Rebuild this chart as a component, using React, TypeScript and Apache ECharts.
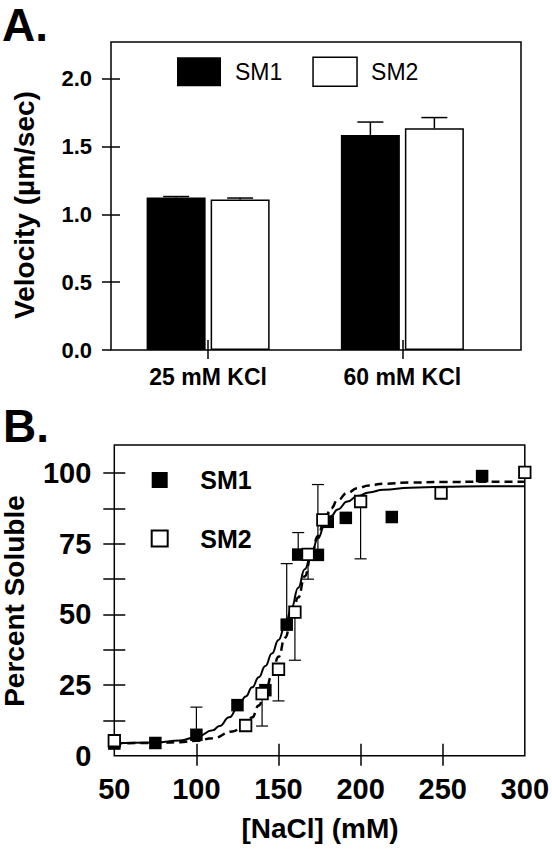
import React, { useEffect, useRef } from 'react';
import * as echarts from 'echarts';

const FONT = '"Liberation Sans", Arial, Helvetica, sans-serif';

// Panel A: velocity bars
const kclCategories = ['25 mM KCl', '60 mM KCl'];
const velocitySM1 = [1.124, 1.585];
const velocitySM1Err = [0.007, 0.095];
const velocitySM2 = [1.109, 1.634];
const velocitySM2Err = [0.011, 0.079];
const velocityTicks = [0, 0.5, 1.0, 1.5, 2.0];

// Panel B: solubility points
const naclSM1 = [50, 75, 100, 125, 142, 155, 162, 174, 180, 191, 219, 274];
const solubleSM1 = [4.3, 4.5, 7.4, 17.9, 23.2, 46.4, 71.2, 71.1, 82.8, 84.2, 84.5, 99.0];
const solubleSM1ErrTop = [null, null, 17.2, null, null, 68.0, 79.0, 96.0, null, null, null, null];

const naclSM2 = [50, 130, 140, 150, 160, 168, 177, 200, 249, 300];
const solubleSM2 = [5.3, 10.7, 22.0, 30.6, 50.8, 71.3, 83.5, 90.0, 93.0, 100.3];
const solubleSM2ErrLow = [null, null, 10.5, 19.4, 33.8, 62.5, null, 69.7, null, null];

// Panel B: fitted curves
const fitSM1X = [50, 75, 90, 100, 110, 114, 120, 126, 130, 134, 138, 142, 146, 150, 154, 158, 162, 166, 170, 174, 178, 182, 186, 192, 198, 205, 214, 230, 250, 275, 300];
const fitSM1Y = [4.4, 4.7, 5.4, 6.6, 9.0, 10.5, 13.6, 18.0, 21.0, 24.2, 27.8, 31.8, 36.2, 41.0, 46.0, 52.5, 59.5, 66.0, 71.5, 77.0, 81.3, 84.8, 87.2, 90.0, 91.9, 93.2, 94.2, 94.9, 95.2, 95.4, 95.4];
const fitSM2X = [50, 75, 90, 100, 110, 122, 130, 134, 138, 142, 146, 150, 154, 158, 162, 166, 170, 174, 178, 182, 186, 192, 198, 205, 214, 230, 250, 275, 300];
const fitSM2Y = [4.4, 4.5, 4.8, 5.3, 6.2, 8.6, 11.0, 13.6, 17.8, 22.8, 28.4, 35.0, 41.8, 48.6, 56.0, 63.5, 71.0, 77.8, 83.4, 87.6, 90.5, 93.1, 94.7, 95.7, 96.3, 96.7, 96.9, 97.0, 97.0];

const naclLabelTicks = [50, 100, 150, 200, 250, 300];
const naclInnerTicks = [100, 150, 200, 250];
const solubleLabelTicks = [0, 25, 50, 75, 100];
const solubleTicks = [12.5, 25, 37.5, 50, 62.5, 75, 87.5, 100];

const BLACK = '#000';

function barErrorRender(offset: number) {
  return (params: any, api: any) => {
    const cat = api.value(0);
    const v = api.value(1);
    const top = api.value(2);
    const p0 = api.coord([cat, v]);
    const p1 = api.coord([cat, top]);
    const x = p0[0] + offset;
    return {
      type: 'group',
      children: [
        { type: 'line', shape: { x1: x, y1: p0[1], x2: x, y2: p1[1] }, style: { stroke: BLACK, lineWidth: 1.5 } },
        { type: 'line', shape: { x1: x - 13, y1: p1[1], x2: x + 13, y2: p1[1] }, style: { stroke: BLACK, lineWidth: 1.5 } },
      ],
    };
  };
}

function pointErrorRender(params: any, api: any) {
  const x = api.value(0);
  const y = api.value(1);
  const e = api.value(2);
  const p0 = api.coord([x, y]);
  const p1 = api.coord([x, e]);
  return {
    type: 'group',
    children: [
      { type: 'line', shape: { x1: p0[0], y1: p0[1], x2: p1[0], y2: p1[1] }, style: { stroke: BLACK, lineWidth: 1.2 } },
      { type: 'line', shape: { x1: p1[0] - 6, y1: p1[1], x2: p1[0] + 6, y2: p1[1] }, style: { stroke: BLACK, lineWidth: 1.2 } },
    ],
  };
}

function buildOption() {
  const sm1Err = naclSM1.map((x, i) => [x, solubleSM1[i], solubleSM1ErrTop[i]]).filter((d) => d[2] !== null);
  const sm2Err = naclSM2.map((x, i) => [x, solubleSM2[i], solubleSM2ErrLow[i]]).filter((d) => d[2] !== null);

  const tickStyle = { color: BLACK, width: 1.5 };

  return {
    animation: false,
    backgroundColor: '#fff',
    textStyle: { fontFamily: FONT },
    grid: [
      { left: 111, top: 42, width: 388.5, height: 308, show: false },
      { left: 114.3, top: 445, width: 411, height: 310.7, show: true, borderColor: BLACK, borderWidth: 1.5, backgroundColor: 'transparent' },
    ],
    legend: [
      {
        left: 177, top: 56.5, orient: 'horizontal', padding: 0, itemGap: 30, itemWidth: 44, itemHeight: 29,
        selectedMode: false,
        textStyle: { fontFamily: FONT, fontSize: 23, color: BLACK, padding: [13, 0, 0, 9] },
        data: [
          { name: 'SM1', icon: 'rect', itemStyle: { color: BLACK, borderWidth: 0 } },
          { name: 'SM2', icon: 'rect', itemStyle: { color: '#fff', borderColor: BLACK, borderWidth: 1.5 } },
        ],
      },
      {
        left: 150.7, top: 467.5, orient: 'vertical', padding: 0, itemGap: 33.5, itemWidth: 16, itemHeight: 16,
        selectedMode: false,
        textStyle: { fontFamily: FONT, fontSize: 25, fontWeight: 'bold', color: BLACK, padding: [6, 0, 0, 27.6] },
        data: [
          { name: 'SM1', icon: 'rect', itemStyle: { color: BLACK, borderWidth: 0 } },
          { name: 'SM2', icon: 'rect', itemStyle: { color: '#fff', borderColor: BLACK, borderWidth: 2 } },
        ],
      },
    ],
    xAxis: [
      {
        type: 'category', gridIndex: 0, data: kclCategories, position: 'bottom',
        axisLine: { show: false },
        axisTick: { show: true, alignWithLabel: true, inside: false, length: 9, lineStyle: tickStyle },
        axisLabel: { color: BLACK, fontFamily: FONT, fontWeight: 'bold', fontSize: 23, margin: 15 },
        splitLine: { show: false },
      },
      {
        type: 'category', gridIndex: 0, data: kclCategories, position: 'bottom',
        axisLine: { show: false },
        axisTick: { show: true, alignWithLabel: true, inside: true, length: 10, lineStyle: tickStyle },
        axisLabel: { show: false },
        splitLine: { show: false },
      },
      {
        type: 'value', gridIndex: 1, min: 50, max: 300, interval: 50, position: 'bottom',
        axisLine: { show: false, onZero: false },
        axisTick: { show: true, inside: false, length: 10, lineStyle: tickStyle, customValues: naclInnerTicks },
        axisLabel: { color: BLACK, fontFamily: FONT, fontWeight: 'bold', fontSize: 29, margin: 19, customValues: naclLabelTicks },
        splitLine: { show: false },
      },
      {
        type: 'value', gridIndex: 1, min: 50, max: 300, interval: 50, position: 'bottom',
        axisLine: { show: false, onZero: false },
        axisTick: { show: true, inside: true, length: 12, lineStyle: tickStyle, customValues: naclInnerTicks },
        axisLabel: { show: false },
        splitLine: { show: false },
      },
    ],
    yAxis: [
      {
        type: 'value', gridIndex: 0, min: 0, max: 2.27, interval: 0.5, position: 'left',
        axisLine: { show: false },
        axisTick: { show: true, inside: false, length: 9, lineStyle: tickStyle, customValues: velocityTicks },
        axisLabel: { color: BLACK, fontFamily: FONT, fontWeight: 'bold', fontSize: 22, margin: 19, customValues: velocityTicks, formatter: (v: number) => v.toFixed(1) },
        splitLine: { show: false },
      },
      {
        type: 'value', gridIndex: 0, min: 0, max: 2.27, interval: 0.5, position: 'left',
        axisLine: { show: false },
        axisTick: { show: true, inside: true, length: 9, lineStyle: tickStyle, customValues: velocityTicks.slice(1) },
        axisLabel: { show: false },
        splitLine: { show: false },
      },
      {
        type: 'value', gridIndex: 1, min: 0, max: 110, interval: 25, position: 'left',
        axisLine: { show: false, onZero: false },
        axisTick: { show: true, inside: false, length: 11, lineStyle: tickStyle, customValues: solubleTicks },
        axisLabel: { color: BLACK, fontFamily: FONT, fontWeight: 'bold', fontSize: 29, margin: 23, customValues: solubleLabelTicks },
        splitLine: { show: false },
      },
      {
        type: 'value', gridIndex: 1, min: 0, max: 110, interval: 25, position: 'left',
        axisLine: { show: false, onZero: false },
        axisTick: { show: true, inside: true, length: 11, lineStyle: tickStyle, customValues: solubleTicks },
        axisLabel: { show: false },
        splitLine: { show: false },
      },
    ],
    series: [
      {
        name: 'SM1', type: 'bar', xAxisIndex: 0, yAxisIndex: 0, data: velocitySM1,
        barWidth: 59, barGap: '8.5%', itemStyle: { color: BLACK }, z: 2,
      },
      {
        name: 'SM2', type: 'bar', xAxisIndex: 0, yAxisIndex: 0, data: velocitySM2,
        barWidth: 59, barGap: '8.5%', itemStyle: { color: '#fff', borderColor: BLACK, borderWidth: 1.5 }, z: 2,
      },
      {
        name: 'SM1 error', type: 'custom', xAxisIndex: 0, yAxisIndex: 0, z: 3,
        renderItem: barErrorRender(-32),
        data: velocitySM1.map((v, i) => [i, v, v + velocitySM1Err[i]]),
      },
      {
        name: 'SM2 error', type: 'custom', xAxisIndex: 0, yAxisIndex: 0, z: 3,
        renderItem: barErrorRender(32),
        data: velocitySM2.map((v, i) => [i, v, v + velocitySM2Err[i]]),
      },
      {
        name: 'SM1 soluble error', type: 'custom', xAxisIndex: 2, yAxisIndex: 2, z: 2,
        renderItem: pointErrorRender, data: sm1Err,
      },
      {
        name: 'SM2 soluble error', type: 'custom', xAxisIndex: 2, yAxisIndex: 2, z: 2,
        renderItem: pointErrorRender, data: sm2Err,
      },
      {
        name: 'SM1 fit', type: 'line', xAxisIndex: 2, yAxisIndex: 2, z: 3,
        data: fitSM1X.map((x, i) => [x, fitSM1Y[i]]), smooth: true, smoothMonotone: 'x',
        showSymbol: false, symbol: 'none', lineStyle: { color: BLACK, width: 2 },
      },
      {
        name: 'SM2 fit', type: 'line', xAxisIndex: 2, yAxisIndex: 2, z: 3,
        data: fitSM2X.map((x, i) => [x, fitSM2Y[i]]), smooth: true, smoothMonotone: 'x',
        showSymbol: false, symbol: 'none', lineStyle: { color: BLACK, width: 2.5, type: [8, 5] },
      },
      {
        name: 'SM1', type: 'scatter', xAxisIndex: 2, yAxisIndex: 2, z: 4,
        symbol: 'rect', symbolSize: 12.5,
        data: naclSM1.map((x, i) => [x, solubleSM1[i]]),
        itemStyle: { color: BLACK, opacity: 1 },
      },
      {
        name: 'SM2', type: 'scatter', xAxisIndex: 2, yAxisIndex: 2, z: 5,
        symbol: 'rect', symbolSize: 11.5,
        data: naclSM2.map((x, i) => [x, solubleSM2[i]]),
        itemStyle: { color: '#fff', borderColor: BLACK, borderWidth: 1.8, opacity: 1 },
      },
    ],
    graphic: [
      { type: 'rect', silent: true, z: 10, shape: { x: 111, y: 42, width: 410, height: 308 }, style: { fill: 'none', stroke: BLACK, lineWidth: 1.5 } },
      { type: 'text', x: 2, y: 25, style: { text: 'A.', fontSize: 46, fontWeight: 'bold', fontFamily: FONT, fill: BLACK, align: 'left', verticalAlign: 'middle' } },
      { type: 'text', x: 3, y: 426, style: { text: 'B.', fontSize: 46, fontWeight: 'bold', fontFamily: FONT, fill: BLACK, align: 'left', verticalAlign: 'middle' } },
      { type: 'text', x: 24, y: 205, rotation: Math.PI / 2, style: { text: 'Velocity (µm/sec)', fontSize: 28, fontWeight: 'bold', fontFamily: FONT, fill: BLACK, align: 'center', verticalAlign: 'middle' } },
      { type: 'text', x: 14, y: 601, rotation: Math.PI / 2, style: { text: 'Percent Soluble', fontSize: 28, fontWeight: 'bold', fontFamily: FONT, fill: BLACK, align: 'center', verticalAlign: 'middle' } },
      { type: 'text', x: 320, y: 828, style: { text: '[NaCl] (mM)', fontSize: 28, fontWeight: 'bold', fontFamily: FONT, fill: BLACK, align: 'center', verticalAlign: 'middle' } },
    ],
  };
}

export default function App() {
  const ref = useRef<HTMLDivElement>(null);
  useEffect(() => {
    if (!ref.current) return;
    const chart = echarts.init(ref.current, null, { renderer: 'svg' });
    chart.setOption(buildOption() as any);
    return () => chart.dispose();
  }, []);
  return (
    <div
      ref={ref}
      style={{ position: 'fixed', left: 0, top: 0, width: 552, height: 852, background: '#fff' }}
    />
  );
}
